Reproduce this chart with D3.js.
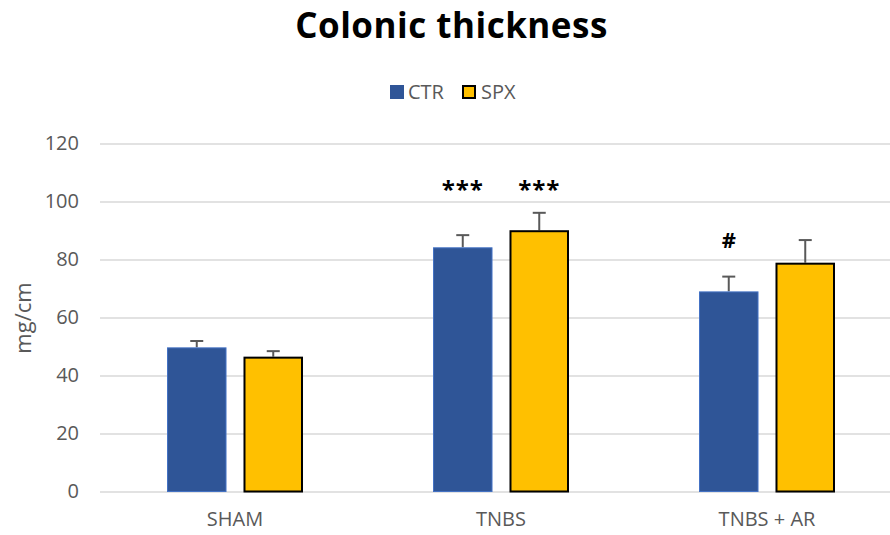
<!DOCTYPE html>
<html>
<head>
<meta charset="utf-8">
<script src="https://cdn.jsdelivr.net/npm/d3@7"></script>
<style>
  body { margin: 0; background: #fff; }
  svg { display: block; font-family: "Open Sans", sans-serif; }
</style>
</head>
<body>
<svg id="chart" width="890" height="535"></svg>
<script>
// Colonic thickness per group, mean ± error
const categories = ["SHAM", "TNBS", "TNBS + AR"];
const series = ["CTR", "SPX"];
const ctrValues = [49.7, 84.2, 69.0];
const ctrErrors = [2.2, 4.2, 5.1];
const spxValues = [46.5, 90.1, 78.9];
const spxErrors = [1.9, 6.0, 7.8];
const ctrMarks = ["", "***", "#"];
const spxMarks = ["", "***", ""];
const yTicks = [0, 20, 40, 60, 80, 100, 120];

const colors = { CTR: "#2F5597", SPX: "#FFC000" };
const FONT = "'Open Sans', sans-serif";

const svg = d3.select("#chart");
const W = 890, H = 535;
const plotLeft = 100;

const y = d3.scaleLinear().domain([0, 120]).range([491.5, 143.5]);
const x0 = d3.scaleBand().domain(categories).range([102, 900]);
const groupW = 136;
const x1 = d3.scaleBand().domain(series)
  .range([(x0.bandwidth() - groupW) / 2, (x0.bandwidth() + groupW) / 2])
  .paddingInner(0.222);

// gridlines
svg.append("g")
  .attr("transform", `translate(${plotLeft},0)`)
  .call(d3.axisLeft(y).tickValues(yTicks).tickSize(-(W - plotLeft)).tickFormat(""))
  .call(g => g.select(".domain").remove())
  .call(g => g.selectAll("line").attr("stroke", "#d9d9d9").attr("stroke-width", 1.3));

// y tick labels
svg.append("g")
  .attr("transform", `translate(79,0)`)
  .call(d3.axisLeft(y).tickValues(yTicks).tickSize(0).tickPadding(0))
  .call(g => g.select(".domain").remove())
  .call(g => g.selectAll("text").attr("fill", "#595959").attr("font-size", 20)
    .attr("font-family", FONT));

// y title
svg.append("text")
  .attr("transform", `translate(31,${318}) rotate(-90)`)
  .attr("text-anchor", "middle")
  .attr("fill", "#595959").attr("font-size", 22)
  .text("mg/cm");

// x labels
svg.append("g")
  .attr("transform", `translate(0,${y(0)})`)
  .call(d3.axisBottom(x0).tickSize(0).tickPadding(20))
  .call(g => g.select(".domain").remove())
  .call(g => g.selectAll("text").attr("fill", "#595959").attr("font-size", 20)
    .attr("font-family", FONT));

const rows = categories.map((c, i) => [
  { cat: c, s: "CTR", v: ctrValues[i], e: ctrErrors[i], m: ctrMarks[i] },
  { cat: c, s: "SPX", v: spxValues[i], e: spxErrors[i], m: spxMarks[i] }
]).flat();

const g = svg.append("g");
// error bars (drawn behind the bars)
rows.forEach(d => {
  const cx = x0(d.cat) + x1(d.s) + x1.bandwidth() / 2;
  g.append("line").attr("x1", cx).attr("x2", cx).attr("y1", y(d.v)).attr("y2", y(d.v + d.e))
    .attr("stroke", "#595959").attr("stroke-width", 2);
  g.append("line").attr("x1", cx - 6.5).attr("x2", cx + 6.5).attr("y1", y(d.v + d.e)).attr("y2", y(d.v + d.e))
    .attr("stroke", "#595959").attr("stroke-width", 2);
});

g.selectAll("rect.bar").data(rows).join("rect")
  .attr("class", "bar")
  .attr("x", d => x0(d.cat) + x1(d.s) + (d.s === "SPX" ? 1 : 0.5))
  .attr("y", d => y(d.v) + (d.s === "SPX" ? 1 : 0.5))
  .attr("width", d => x1.bandwidth() - (d.s === "SPX" ? 2 : 1))
  .attr("height", d => y(0) - y(d.v) - (d.s === "SPX" ? 1 : 0.5))
  .attr("fill", d => colors[d.s])
  .attr("stroke", d => d.s === "SPX" ? "#000" : "#4472C4")
  .attr("stroke-width", d => d.s === "SPX" ? 2 : 1);

// significance marks
g.selectAll("text.mark").data(rows.filter(d => d.m)).join("text")
  .attr("class", "mark")
  .attr("x", d => x0(d.cat) + x1(d.s) + x1.bandwidth() / 2)
  .attr("y", d => d.m === "#" ? 248 : 198)
  .attr("text-anchor", "middle")
  .attr("font-weight", "bold").attr("font-size", d => d.m === "#" ? 22 : 24)
  .attr("letter-spacing", d => d.m === "#" ? 0 : 1)
  .attr("font-family", FONT)
  .text(d => d.m);

// title
svg.append("text")
  .attr("x", 451.5).attr("y", 38)
  .attr("text-anchor", "middle")
  .attr("font-weight", "bold").attr("font-size", 35)
  .attr("letter-spacing", 0.5)
  .attr("fill", "#000")
  .text("Colonic thickness");

// legend
const legend = svg.append("g").attr("transform", "translate(390,85)");
series.forEach((s, i) => {
  const lg = legend.append("g").attr("transform", `translate(${i * 72},0)`);
  lg.append("rect").attr("x", s === "SPX" ? 1 : 0).attr("y", s === "SPX" ? 1 : 0)
    .attr("width", s === "SPX" ? 12 : 14).attr("height", s === "SPX" ? 12 : 14)
    .attr("fill", colors[s])
    .attr("stroke", s === "SPX" ? "#000" : "none").attr("stroke-width", 2);
  lg.append("text").attr("x", s === "SPX" ? 19 : 18).attr("y", 14)
    .attr("fill", "#595959").attr("font-size", 20)
    .text(s);
});
</script>
</body>
</html>
